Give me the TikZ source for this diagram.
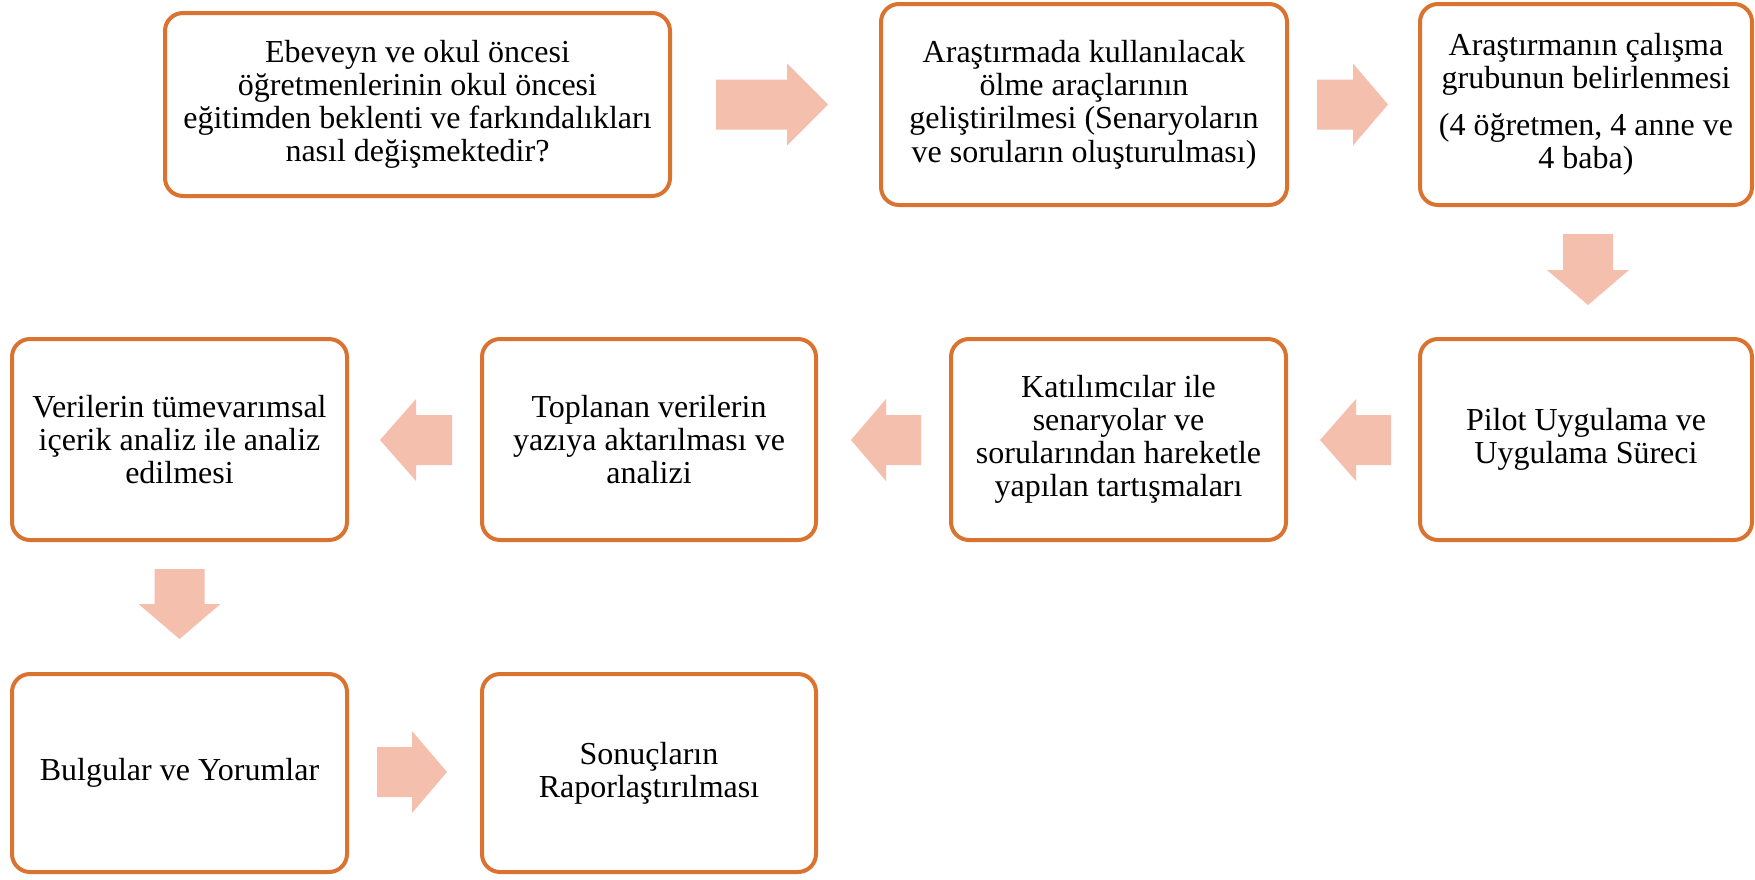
\documentclass[tikz,border=0pt]{standalone}
\usepackage{fontspec}
\setmainfont{Liberation Serif}
\definecolor{boxorange}{RGB}{218,114,48}
\definecolor{arrowpeach}{RGB}{244,191,173}
\newcommand\blockarrow[5]{\fill[arrowpeach,shift={(#1,#2)},rotate=#3] (0,-25) -- (#4-#5,-25) -- (#4-#5,-41) -- (#4,0) -- (#4-#5,41) -- (#4-#5,25) -- (0,25) -- cycle;}
\begin{document}
\begin{tikzpicture}[x=0.5pt,y=-0.5pt,
  box/.style={draw=boxorange, line width=2pt, rounded corners=9pt, fill=white,
    align=center, inner sep=0pt, outer sep=0pt, font=\fontsize{16}{16.6}\selectfont}]
\useasboundingbox (0,0) rectangle (1755,879);
\node[box, minimum width=252.5pt, minimum height=91.5pt] (b1) at (417.5,104.5)
  {Ebeveyn ve okul öncesi\\ öğretmenlerinin okul öncesi\\ eğitimden beklenti ve farkındalıkları\\ nasıl değişmektedir?};
\node[box, minimum width=203pt, minimum height=100.5pt] (b2) at (1084,104.5)
  {Araştırmada kullanılacak\\ ölme araçlarının\\ geliştirilmesi (Senaryoların\\ ve soruların oluşturulması)};
\node[box, minimum width=166pt, minimum height=100.5pt] (b3) at (1586,104.5)
  {Araştırmanın çalışma\\ grubunun belirlenmesi\\[6.7pt] (4 öğretmen, 4 anne ve\\ 4 baba)};
\node[box, minimum width=166pt, minimum height=100.5pt] (b4) at (1586,439.5)
  {Pilot Uygulama ve\\ Uygulama Süreci};
\node[box, minimum width=167.5pt, minimum height=100.5pt] (b5) at (1118.5,439.5)
  {Katılımcılar ile\\ senaryolar ve\\ sorularından hareketle\\ yapılan tartışmaları};
\node[box, minimum width=167pt, minimum height=100.5pt] (b6) at (649,439.5)
  {Toplanan verilerin\\ yazıya aktarılması ve\\ analizi};
\node[box, minimum width=167.5pt, minimum height=100.5pt] (b7) at (179.5,439.5)
  {Verilerin tümevarımsal\\ içerik analiz ile analiz\\ edilmesi};
\node[box, minimum width=167.5pt, minimum height=99pt] (b8) at (179.5,773)
  {Bulgular ve Yorumlar};
\node[box, minimum width=167pt, minimum height=99pt] (b9) at (649,773)
  {Sonuçların\\ Raporlaştırılması};
% block arrows
\blockarrow{716}{104.5}{0}{112}{41}
\blockarrow{1317}{104.5}{0}{71}{35}
\blockarrow{1588}{234}{-90}{71}{35}
\blockarrow{1391}{440}{180}{71}{36}
\blockarrow{921}{440}{180}{70}{35}
\blockarrow{452}{440}{180}{72}{36}
\blockarrow{179.5}{569}{-90}{70}{35}
\blockarrow{377}{772}{0}{70}{35}
\end{tikzpicture}
\end{document}
